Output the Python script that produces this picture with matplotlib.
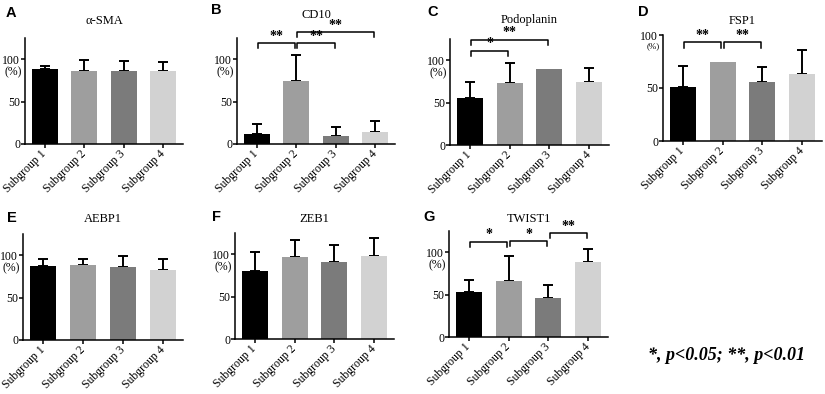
import matplotlib
matplotlib.use('Agg')
import matplotlib.pyplot as plt
import numpy as np

plt.rcParams['font.family'] = ['Liberation Serif', 'DejaVu Serif']

groups = ['Subgroup 1', 'Subgroup 2', 'Subgroup 3', 'Subgroup 4']
bar_colors = ['#000000', '#9e9e9e', '#7b7b7b', '#d2d2d2']

letters = ['A', 'B', 'C', 'D', 'E', 'F', 'G']
titles = ['α-SMA', 'CD10', 'Podoplanin', 'FSP1', 'AEBP1', 'ZEB1', 'TWIST1']

sma_mean = [88, 86, 86.5, 86]
sma_sd = [4, 13.5, 11, 10.5]
cd10_mean = [12, 74.5, 10, 14.5]
cd10_sd = [12, 30.5, 10, 13]
podo_mean = [56, 73.5, 90, 74]
podo_sd = [18.5, 23.5, 0, 17]
fsp1_mean = [51, 74.5, 55.5, 63.5]
fsp1_sd = [20, 0, 14.5, 22.5]
aebp1_mean = [87.5, 88, 86, 82]
aebp1_sd = [8, 7, 13, 13.5]
zeb1_mean = [80.5, 97, 91, 97.5]
zeb1_sd = [22, 19.5, 20, 21.5]
twist1_mean = [53.5, 65.5, 45.5, 88.5]
twist1_sd = [13.5, 30, 15.5, 15.5]

means = [sma_mean, cd10_mean, podo_mean, fsp1_mean, aebp1_mean, zeb1_mean, twist1_mean]
sds = [sma_sd, cd10_sd, podo_sd, fsp1_sd, aebp1_sd, zeb1_sd, twist1_sd]

# significance brackets: (group i, group j, level, label)
brackets = [
    [],
    [(0, 1, 119, '**'), (1, 2, 119, '**'), (1, 3, 132, '**')],
    [(0, 1, 111, '*'), (0, 2, 124, '**')],
    [(0, 1, 93, '**'), (1, 2, 93, '**')],
    [],
    [],
    [(0, 1, 112.5, '*'), (1, 2, 113, '*'), (2, 3, 122.5, '**')],
]
ytops = [125, 125, 125, 100, 125, 125, 125]

# layout in pixels (from top-left)
W, H = 825, 394
boxes = [(25, 144, 158, 106), (237, 144, 158, 106), (450, 145, 159, 106),
         (663, 141, 159, 106), (23, 340, 160, 106), (235, 339, 159, 106),
         (449, 337, 159, 106)]
title_y = [21.5, 15, 20.5, 21.5, 219, 219, 219]
letter_xy = [(6, 13), (211, 10), (427, 12.5), (638, 12), (7, 218), (212, 217), (423, 217.5)]

fig = plt.figure(figsize=(8.25, 3.94), dpi=100)

for k in range(7):
    l, b, w, h = boxes[k]
    ax = fig.add_axes([l / W, (H - b) / H, w / W, h / H])
    x = np.arange(4)
    m = np.array(means[k], dtype=float)
    sd = np.array(sds[k], dtype=float)
    ax.bar(x, m, width=0.66, color=bar_colors, zorder=2)
    has = sd > 0
    ax.errorbar(x[has], m[has], yerr=[np.zeros(has.sum()), sd[has]], fmt='none',
                ecolor='black', elinewidth=1.4, capsize=3.3, capthick=1.4, zorder=1)
    ax.set_xlim(-0.5, 3.5)
    ax.set_ylim(0, ytops[k])
    ax.set_yticks([0, 50, 100])
    ax.set_xticks(x)
    ax.set_xticklabels(groups, rotation=45, ha='right', va='center',
                       rotation_mode='anchor', fontsize=8.5)
    ax.tick_params(axis='y', labelsize=8.5, width=1.1, length=3, pad=0.5)
    ax.tick_params(axis='x', width=1.1, length=3, pad=3)
    for s in ['top', 'right']:
        ax.spines[s].set_visible(False)
    for s in ['left', 'bottom']:
        ax.spines[s].set_linewidth(1.1)
    if k == 3:
        ax.text(-0.02, 89, '(%)', transform=ax.get_yaxis_transform(), ha='right',
                va='center', fontsize=6.5)
    else:
        ax.text(-0.02, 85, '(%)', transform=ax.get_yaxis_transform(), ha='right',
                va='center', fontsize=8.5)
    fig.text((l + w / 2) / W, 1 - title_y[k] / H, titles[k], fontsize=9,
             ha='center', va='center')
    lx, ly = letter_xy[k]
    fig.text(lx / W, 1 - ly / H, letters[k], fontsize=10.5, fontweight='bold',
             family='Liberation Sans', va='center', ha='left')
    drop = 6 * ytops[k] / 125
    for i, j, lev, lab in brackets[k]:
        x1, x2 = i + 0.03, j - 0.03
        ax.plot([x1, x1, x2, x2], [lev - drop, lev, lev, lev - drop], color='black',
                lw=1.1, clip_on=False)
        ax.text((x1 + x2) / 2, lev + 0.5, lab, ha='center', va='bottom', fontsize=10,
                fontweight='bold')

fig.text(648 / W, 1 - 355 / H, '*, p<0.05; **, p<0.01', fontsize=13, fontweight='bold',
         style='italic', ha='left', va='center')

plt.savefig('out.png', dpi=100)
